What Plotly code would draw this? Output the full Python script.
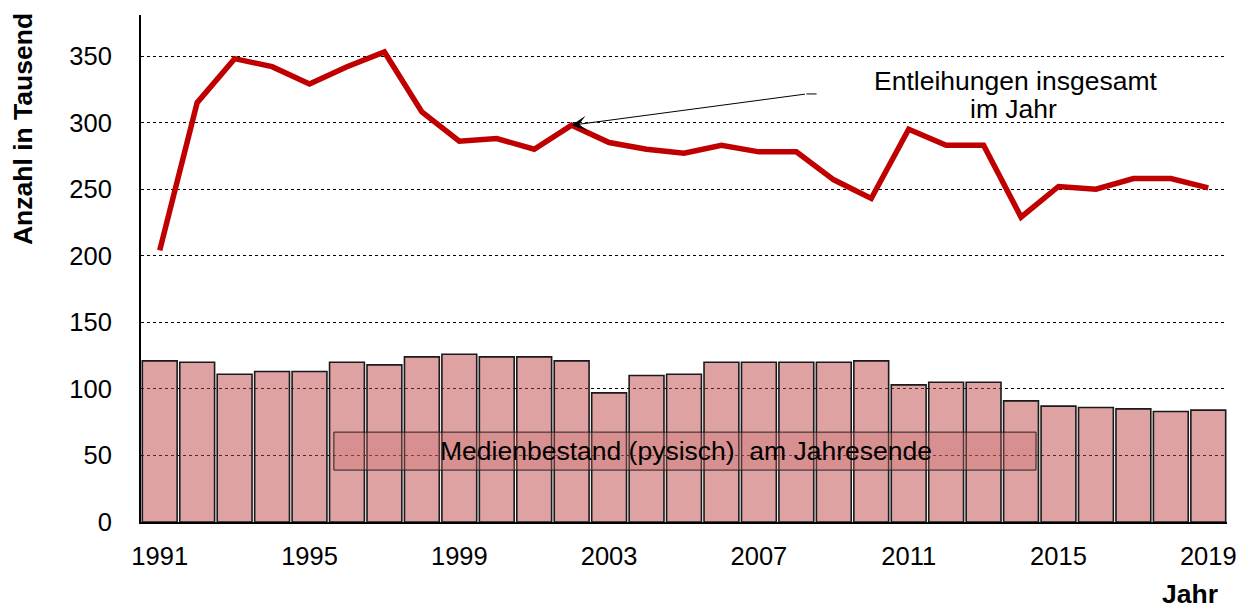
import plotly.graph_objects as go

# Library statistics 1991-2019 (values in thousands)
years = list(range(1991, 2020))
entleihungen = [204, 315, 348, 342, 329, 342, 353, 308, 286, 288, 280,
                298, 285, 280, 277, 283, 278, 278, 257, 243, 295, 283,
                283, 229, 252, 250, 258, 258, 251]
medienbestand = [121, 120, 111, 113, 113, 120, 118, 124, 126, 124, 124,
                 121, 97, 110, 111, 120, 120, 120, 120, 121, 103, 105,
                 105, 91, 87, 86, 85, 83, 84]
x_ticks = [1991, 1995, 1999, 2003, 2007, 2011, 2015, 2019]
y_ticks = [0, 50, 100, 150, 200, 250, 300, 350]

FONT = "Liberation Sans, Arial, sans-serif"
LABEL_SIZE = 26.5

fig = go.Figure()

fig.add_trace(go.Bar(
    x=years, y=medienbestand,
    marker=dict(color="rgba(190,70,70,0.5)",
                line=dict(color="#1a1a1a", width=1.6)),
    showlegend=False, hoverinfo="x+y",
))

fig.add_trace(go.Scatter(
    x=years, y=entleihungen, mode="lines",
    line=dict(color="#C00000", width=5.5),
    showlegend=False, hoverinfo="x+y",
))

# Label box for the stock bars
fig.add_shape(type="rect", xref="x", yref="y",
              x0=1995.65, x1=2014.4, y0=39, y1=67.5,
              line=dict(color="#222222", width=1),
              fillcolor="rgba(205,110,110,0.35)", layer="above")
fig.add_annotation(x=2005.05, y=53, xref="x", yref="y",
                   text="Medienbestand (pysisch)  am Jahresende",
                   showarrow=False,
                   font=dict(family=FONT, size=LABEL_SIZE, color="black"))

# Callout for the loans line
fig.add_shape(type="line", xref="x", yref="y",
              x0=2008.27, x1=2008.54, y0=321.5, y1=321.5,
              line=dict(color="black", width=1))
fig.add_annotation(x=2002, y=entleihungen[years.index(2002)], xref="x", yref="y",
                   ax=2008.27, ay=321.5, axref="x", ayref="y",
                   text="", showarrow=True, arrowhead=3, arrowsize=2.5,
                   arrowwidth=1, arrowcolor="black", standoff=0)
fig.add_annotation(x=2013.85, y=331.5, xref="x", yref="y",
                   text="Entleihungen insgesamt", showarrow=False,
                   font=dict(family=FONT, size=LABEL_SIZE, color="black"))
fig.add_annotation(x=2013.8, y=310, xref="x", yref="y",
                   text="im Jahr", showarrow=False,
                   font=dict(family=FONT, size=LABEL_SIZE, color="black"))

# Axis titles
fig.add_annotation(x=-0.1087, y=0.775, xref="paper", yref="paper",
                   xanchor="center", yanchor="middle",
                   text="<b>Anzahl in Tausend</b>", textangle=-90, showarrow=False,
                   font=dict(family=FONT, size=LABEL_SIZE, color="black"))
fig.add_annotation(x=0.966, y=-0.142, xref="paper", yref="paper",
                   xanchor="center", yanchor="middle",
                   text="<b>Jahr</b>", showarrow=False,
                   font=dict(family=FONT, size=LABEL_SIZE, color="black"))

fig.update_layout(
    width=1250, height=611,
    margin=dict(l=141, r=23, t=15, b=89),
    paper_bgcolor="white", plot_bgcolor="white",
    bargap=0.07,
    font=dict(family=FONT, size=25, color="black"),
    xaxis=dict(range=[1990.5, 2019.5], tickmode="array", tickvals=x_ticks,
               showgrid=False, zeroline=False, showline=True,
               linecolor="black", linewidth=2, ticks="",
               ticklabelstandoff=10,
               tickfont=dict(family=FONT, size=25.5, color="black")),
    yaxis=dict(range=[0, 380.8], tickmode="array", tickvals=y_ticks,
               showgrid=True, gridcolor="black", gridwidth=1, griddash="dot",
               zeroline=False, showline=True, linecolor="black", linewidth=2,
               ticks="", ticklabelstandoff=22,
               tickfont=dict(family=FONT, size=25.5, color="black")),
)

fig.write_html("out.html")
